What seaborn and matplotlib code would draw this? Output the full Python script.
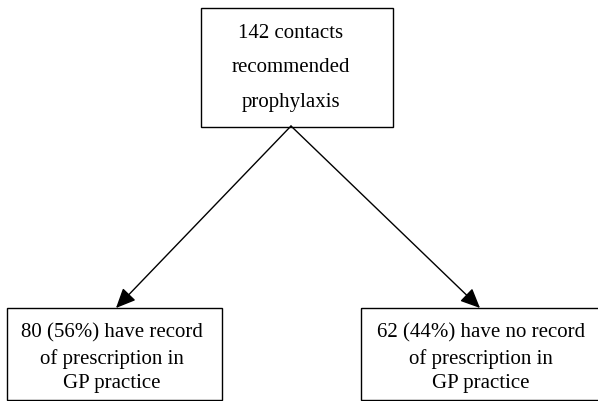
import matplotlib
matplotlib.use("Agg")
import matplotlib.pyplot as plt
import seaborn as sns
from matplotlib.patches import Rectangle

sns.set_theme(style="white")
plt.rcParams['font.family'] = ['Liberation Serif', 'DejaVu Serif']

# Data
top_lines = ["142 contacts", "recommended", "prophylaxis"]
left_lines = ["80 (56%) have record", "of prescription in", "GP practice"]
right_lines = ["62 (44%) have no record", "of prescription in", "GP practice"]

# Layout (pixel coordinates, y downward)
W, H = 598, 402
fig = plt.figure(figsize=(W / 100, H / 100), dpi=100)
ax = fig.add_axes([0, 0, 1, 1])
ax.set_xlim(0, W)
ax.set_ylim(H, 0)
ax.axis("off")

boxes = [
    (201, 9, 393, 128, 291, top_lines, [33, 68, 102]),
    (7, 309, 222, 400.5, 112, left_lines, [333, 359, 384]),
    (361, 309, 605, 400.5, 481, right_lines, [333, 359, 384]),
]
for x0, y0, x1, y1, cx, lines, ys in boxes:
    ax.add_patch(Rectangle((x0, y0), x1 - x0, y1 - y0, fill=False,
                           edgecolor="black", linewidth=1.0))
    for t, yy in zip(lines, ys):
        ax.text(cx, yy, t, ha="center", va="center", fontsize=15, color="black")

for tx, ty in [(116, 309), (480, 309)]:
    ax.annotate("", xy=(tx, ty), xytext=(291, 127),
                arrowprops=dict(arrowstyle="-|>,head_length=1.0,head_width=0.45",
                                color="black", lw=1.0, shrinkA=0, shrinkB=0))

fig.savefig("out.png", dpi=100, facecolor="white")
